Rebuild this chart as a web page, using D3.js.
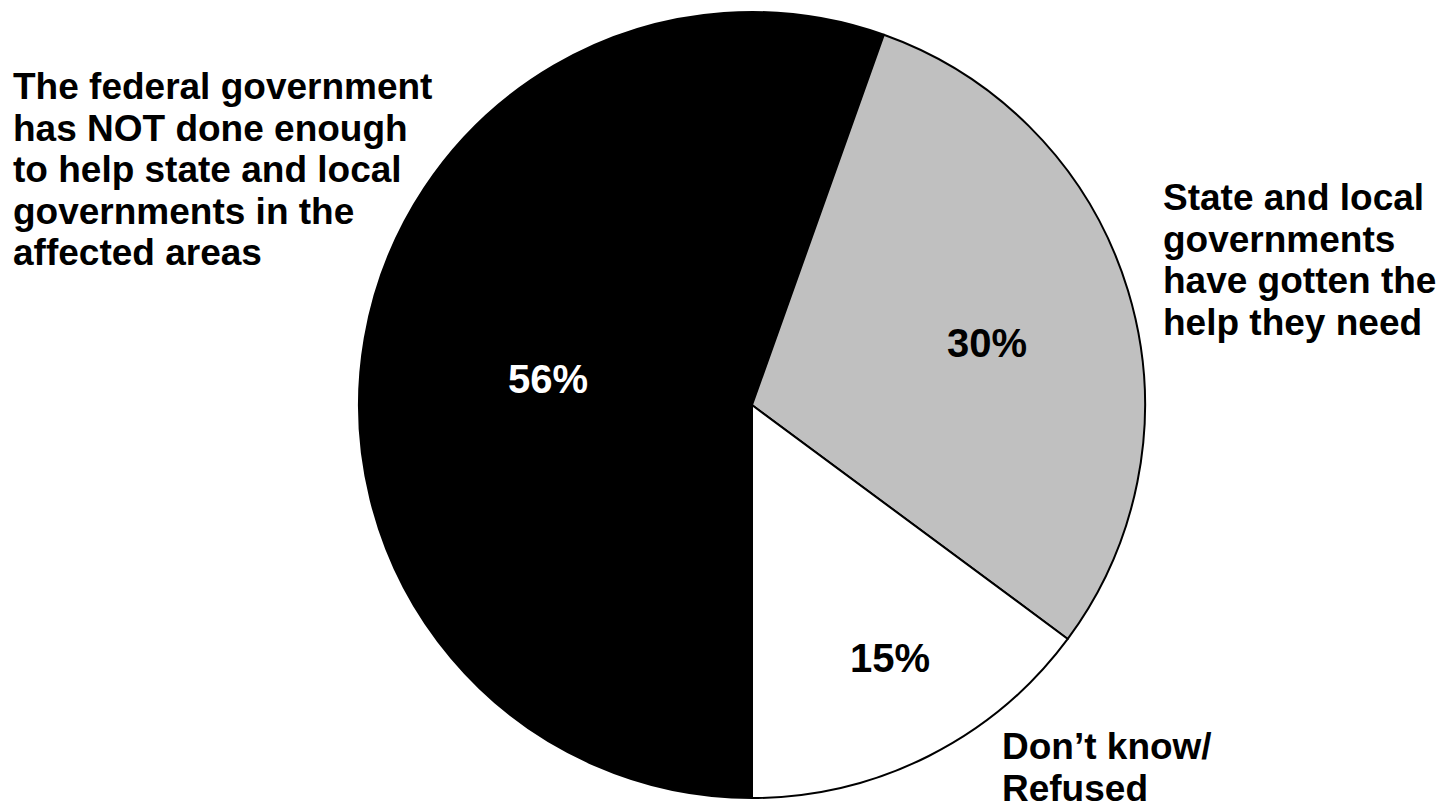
<!DOCTYPE html>
<html>
<head>
<meta charset="utf-8">
<script src="https://cdn.jsdelivr.net/npm/d3@7/dist/d3.min.js"></script>
<style>
  html, body { margin: 0; padding: 0; background: #fff; overflow: hidden; }
  svg { display: block; }
  text { font-family: "Liberation Sans", Arial, sans-serif; font-weight: bold; }
</style>
</head>
<body>
<script>
// Survey responses: has the federal government done enough?
const categories = [
  "The federal government has NOT done enough to help state and local governments in the affected areas",
  "State and local governments have gotten the help they need",
  "Don\u2019t know/ Refused"
];
const values = [56, 30, 15];
const valueLabels = ["56%", "30%", "15%"];
const fills = ["#000000", "#c0c0c0", "#ffffff"];
const labelColors = ["#ffffff", "#000000", "#000000"];

// Category labels broken into lines as displayed
const categoryLines = [
  ["The federal government", "has NOT done enough", "to help state and local", "governments in the", "affected areas"],
  ["State and local", "governments", "have gotten the", "help they need"],
  ["Don\u2019t know/", "Refused"]
];

const W = 1442, H = 804;
const cx = 752, cy = 405, R = 393;

const svg = d3.select("body").append("svg")
  .attr("width", W).attr("height", H);

// Slices run clockwise starting from six o'clock
const pie = d3.pie().sort(null)
  .startAngle(Math.PI).endAngle(3 * Math.PI);
const arcs = pie(values);

const arc = d3.arc().innerRadius(0).outerRadius(R);

const g = svg.append("g").attr("transform", `translate(${cx},${cy})`);

g.selectAll("path.slice").data(arcs).enter().append("path")
  .attr("class", "slice")
  .attr("d", arc)
  .attr("fill", (d, i) => fills[i])
  .attr("stroke", "#000")
  .attr("stroke-width", 2)
  .attr("stroke-linejoin", "round");

// Percentage labels inside slices (offsets from pie centre, baseline)
const pctPos = [[-204, -12], [235, -48], [138, 267]];
g.selectAll("text.pct").data(arcs).enter().append("text")
  .attr("class", "pct")
  .attr("x", (d, i) => pctPos[i][0])
  .attr("y", (d, i) => pctPos[i][1])
  .attr("text-anchor", "middle")
  .attr("font-size", 40)
  .attr("fill", (d, i) => labelColors[i])
  .text((d, i) => valueLabels[i]);

// Category labels outside the pie
const catPos = [[13, 99], [1163, 210], [1002, 759]];
const lineH = 41.5;
categoryLines.forEach((lines, i) => {
  const t = svg.append("text")
    .attr("x", catPos[i][0])
    .attr("y", catPos[i][1])
    .attr("font-size", 37)
    .attr("fill", "#000");
  lines.forEach((ln, j) => {
    t.append("tspan")
      .attr("x", catPos[i][0])
      .attr("y", catPos[i][1] + j * lineH)
      .text(ln);
  });
});
</script>
</body>
</html>
